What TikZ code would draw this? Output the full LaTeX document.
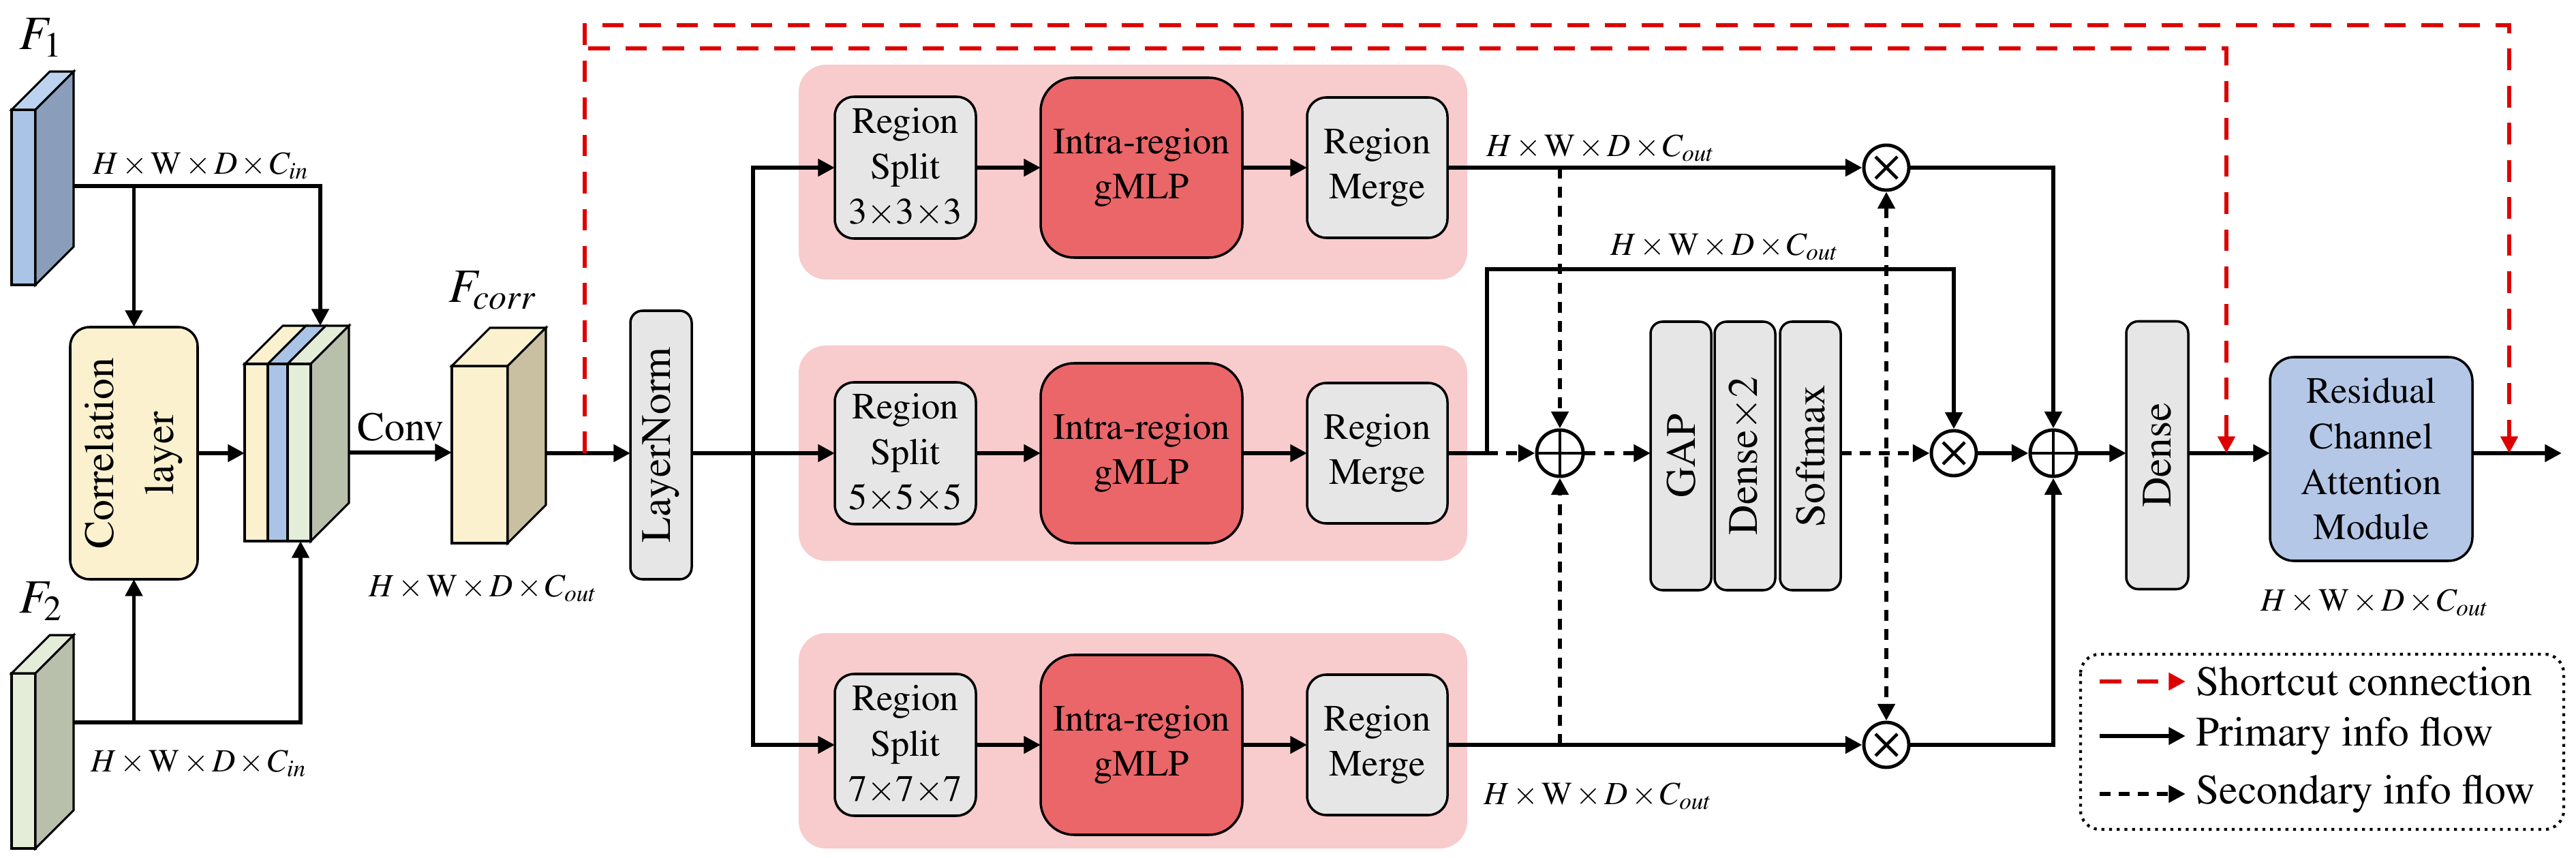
\RequirePackage{fix-cm}
\documentclass[tikz,border=0pt]{standalone}
\usepackage[T1]{fontenc}
\usepackage{mathptmx}
\usepackage{amsmath}
\usepackage{graphicx}
\usetikzlibrary{arrows.meta,calc,positioning}

\definecolor{blueface}{HTML}{A9C4E6}
\definecolor{blueside}{HTML}{8A9EBB}
\definecolor{bluetop}{HTML}{BCD2EE}
\definecolor{greenface}{HTML}{E3EDD8}
\definecolor{greenside}{HTML}{B8C0AC}
\definecolor{creamface}{HTML}{FBF1CF}
\definecolor{creamside}{HTML}{C9BFA1}
\definecolor{boxgrey}{HTML}{E6E6E6}
\definecolor{mlpred}{HTML}{EA6669}
\definecolor{regionpink}{HTML}{F8CBCC}
\definecolor{rcamblue}{HTML}{B4C7E7}
\definecolor{shortred}{HTML}{DD0000}

\newcommand{\hwdc}[1]{$H{\,\times\,}\mathrm{W}{\,\times\,}D{\,\times\,}C_{#1}$}

\tikzset{
  wire/.style={line width=1.7pt},
  flow/.style={line width=1.7pt, -{Triangle[length=7pt,width=7pt]}},
  secflow/.style={flow, dash pattern=on 4.5pt off 3.5pt},
  shortcut/.style={draw=shortred, line width=1.9pt, dash pattern=on 9pt off 6.5pt,
    -{Triangle[length=7pt,width=7pt]}},
  edge/.style={line width=0.9pt},
  slabface/.style={draw, line width=0.9pt, inner sep=0pt, outer sep=0pt},
  greybox/.style={draw, line width=1pt, fill=boxgrey, rounded corners=8pt, align=center,
    inner sep=0pt, outer sep=0pt, font=\fontsize{15.5}{19}\selectfont},
  rotbox/.style={greybox, rounded corners=5pt, font=\fontsize{17.5}{21}\selectfont},
  mlpbox/.style={greybox, fill=mlpred, rounded corners=14pt},
  dimlab/.style={font=\fontsize{13.5}{15}\selectfont, inner sep=0pt},
  featlab/.style={font=\fontsize{20}{22}\selectfont, inner sep=0pt},
  addnode/.style={circle, draw, line width=1.4pt, fill=white, minimum size=0.68cm, inner sep=0pt,
    path picture={\draw[line width=1.3pt] (path picture bounding box.north) -- (path picture bounding box.south)
      (path picture bounding box.west) -- (path picture bounding box.east);}},
  mulnode/.style={circle, draw, line width=1.4pt, fill=white, minimum size=0.66cm, inner sep=0pt,
    path picture={\draw[line width=1.3pt]
      ([shift={(-0.16,-0.16)}]path picture bounding box.center) -- ([shift={(0.16,0.16)}]path picture bounding box.center)
      ([shift={(-0.16,0.16)}]path picture bounding box.center) -- ([shift={(0.16,-0.16)}]path picture bounding box.center);}},
  legtxt/.style={anchor=west, inner sep=0.15cm, font=\fontsize{17.5}{20}\selectfont}
}

% feature block: name, position, width, height, front, side, top
\newcommand{\slab}[7]{%
  \node[slabface, minimum width=#3, minimum height=#4, fill=#5] (#1) at #2 {};
  \filldraw[fill=#7, edge] (#1.north west) -- ++(0.56,0.56) -- ($(#1.north east)+(0.56,0.56)$) -- (#1.north east) -- cycle;
  \filldraw[fill=#6, edge] (#1.north east) -- ++(0.56,0.56) -- ($(#1.south east)+(0.56,0.56)$) -- (#1.south east) -- cycle;
}

\begin{document}
\begin{tikzpicture}
  \useasboundingbox (0,0) rectangle (37.8,-12.59);

  % region groups
  \fill[regionpink, rounded corners=0.4cm] (11.72,-0.95) rectangle (21.53,-4.10);
  \fill[regionpink, rounded corners=0.4cm] (11.72,-5.07) rectangle (21.53,-8.23);
  \fill[regionpink, rounded corners=0.4cm] (11.72,-9.29) rectangle (21.53,-12.45);

  % inputs
  \slab{f1}{(0.345,-2.895)}{0.35cm}{2.57cm}{blueface}{blueside}{bluetop}
  \slab{f2}{(0.345,-11.165)}{0.35cm}{2.57cm}{greenface}{greenside}{greenface}
  \node[featlab] (f1lab) at (0.60,-0.55) {$F_1$};
  \node[featlab] (f2lab) at (0.60,-8.82) {$F_2$};

  \node[greybox, fill=creamface, rounded corners=8pt, minimum width=1.87cm, minimum height=3.70cm,
    font=\fontsize{17.5}{25}\selectfont] (corr) at (1.965,-6.65)
    {\rotatebox{90}{\parbox{3.5cm}{\centering Correlation\\layer}}};

  % concatenated block
  \foreach \a/\b/\c in {3.59/3.93/creamface, 3.93/4.22/blueface, 4.22/4.56/greenface} {
    \filldraw[fill=\c, edge] (\a,-7.94) rectangle (\b,-5.34);
    \filldraw[fill=\c, edge] (\a,-5.34) -- (\b,-5.34) -- (\b+0.56,-4.78) -- (\a+0.56,-4.78) -- cycle;
  }
  \filldraw[fill=greenside, edge] (4.56,-5.34) -- ++(0.56,0.56) -- ++(0,-2.6) -- (4.56,-7.94) -- cycle;
  \node[slabface, minimum width=0.97cm, minimum height=2.6cm] (cat) at (4.075,-6.64) {};

  \slab{fc}{(7.04,-6.67)}{0.82cm}{2.6cm}{creamface}{creamside}{creamface}
  \node[featlab] (fclab) at (7.23,-4.26) {$F_{corr}$};

  \node[dimlab] (inlab1) at (2.95,-2.43) {\hwdc{in}};
  \node[dimlab] (inlab2) at (2.92,-11.20) {\hwdc{in}};
  \node[dimlab] (fcdim) at (7.09,-8.63) {\hwdc{out}};
  \node[font=\fontsize{17}{20}\selectfont, inner sep=0pt] (convlab) at (5.88,-6.27) {Conv};

  \coordinate (f1out) at ($(f1.east)+(0.56,0.165)$);
  \coordinate (f2out) at ($(f2.east)+(0.56,0.565)$);
  \coordinate (catout) at ($(cat.east)+(0.56,0)$);
  \coordinate (fcout) at ($(fc.east)+(0.56,0.02)$);

  \draw[flow] (f1out) -| ([xshift=0.625cm, yshift=0.56cm]cat.north);
  \draw[flow] (corr.north |- f1out) -- (corr.north);
  \draw[flow] (f2out) -| ([xshift=0.335cm]cat.south);
  \draw[flow] (corr.south |- f2out) -- (corr.south);
  \draw[flow] (corr.east) -- (corr.east -| cat.west);
  \draw[flow] (catout) -- (catout -| fc.west);

  % layer norm and region branches
  \node[rotbox, minimum width=0.90cm, minimum height=3.94cm] (ln) at (9.70,-6.53) {\rotatebox{90}{LayerNorm}};
  \draw[flow] (fcout) -- (fcout -| ln.west);

  \foreach \n/\y/\k in {1/-2.46/3, 2/-6.65/5, 3/-10.93/7} {
    \node[greybox, minimum width=2.07cm, minimum height=2.08cm] (split\n) at (13.285,\y) {Region\\Split\\\k$\times$\k$\times$\k};
    \node[mlpbox, minimum width=2.96cm, minimum height=2.64cm] (mlp\n) at (16.75,\y) {Intra-region\\gMLP};
    \node[greybox, minimum width=2.06cm, minimum height=2.06cm] (merge\n) at (20.21,\y) {Region\\Merge};
    \draw[flow] (split\n) -- (mlp\n);
    \draw[flow] (mlp\n) -- (merge\n);
  }

  \coordinate (lnfork) at (11.05,-6.65);
  \draw[wire] (ln.east |- lnfork) -- (lnfork);
  \draw[flow] (lnfork) -- (split2.west);
  \draw[flow] (lnfork) |- (split1.west);
  \draw[flow] (lnfork) |- (split3.west);

  % scale fusion
  \node[addnode] (adda) at (22.89,-6.65) {};
  \node[rotbox, minimum width=0.89cm, minimum height=3.94cm] (gap) at (24.665,-6.69) {\rotatebox{90}{GAP}};
  \node[rotbox, minimum width=0.89cm, minimum height=3.94cm] (dense2) at (25.605,-6.69) {\rotatebox{90}{Dense$\times$2}};
  \node[rotbox, minimum width=0.89cm, minimum height=3.94cm] (soft) at (26.565,-6.69) {\rotatebox{90}{Softmax}};
  \node[mulnode] (mul1) at (27.68,-2.46) {};
  \node[mulnode] (mul2) at (28.67,-6.65) {};
  \node[mulnode] (mul3) at (27.68,-10.93) {};
  \node[addnode] (addb) at (30.13,-6.65) {};

  \node[dimlab] (dim1) at (23.49,-2.17) {\hwdc{out}};
  \node[dimlab] (dim2) at (25.31,-3.62) {\hwdc{out}};
  \node[dimlab] (dim3) at (23.45,-11.68) {\hwdc{out}};

  \draw[flow] (merge1.east) -- (mul1.west);
  \draw[flow] (merge3.east) -- (mul3.west);
  \coordinate (m2fork) at (21.82,-6.65);
  \draw[wire] (merge2.east) -- (m2fork);
  \draw[secflow] (m2fork) -- (adda.west);
  \draw[flow] (m2fork) -- (21.82,-3.95) -| (mul2.north);
  \draw[secflow] (adda |- merge1.east) -- (adda.north);
  \draw[secflow] (adda |- merge3.east) -- (adda.south);
  \draw[secflow] (adda.east) -- (adda.east -| gap.west);
  \draw[secflow] (mul2.west -| soft.east) -- (mul2.west);
  \draw[secflow, {Triangle[length=7pt,width=7pt]}-{Triangle[length=7pt,width=7pt]}] (mul1.south) -- (mul3.north);
  \draw[flow] (mul1.east) -| (addb.north);
  \draw[flow] (mul3.east) -| (addb.south);
  \draw[flow] (mul2.east) -- (addb.west);

  % output
  \node[rotbox, minimum width=0.91cm, minimum height=3.93cm] (dense) at (31.655,-6.68) {\rotatebox{90}{Dense}};
  \node[greybox, fill=rcamblue, rounded corners=10pt, minimum width=2.97cm, minimum height=2.99cm] (rcam) at (34.795,-6.735)
    {Residual\\Channel\\Attention\\Module};
  \node[dimlab] (rcamdim) at (34.85,-8.84) {\hwdc{out}};
  \coordinate (outend) at (37.59,-6.65);
  \draw[flow] (addb.east) -- (addb.east -| dense.west);
  \draw[flow] (dense.east |- addb) -- (rcam.west |- addb);
  \draw[flow] (rcam.east |- outend) -- (outend);

  % shortcuts
  \coordinate (scfork) at (8.58,-6.65);
  \coordinate (sc1end) at (32.67,-6.65);
  \coordinate (sc2end) at (36.82,-6.65);
  \draw[shortcut] (scfork) -- (8.58,-0.71) -| (sc1end);
  \draw[shortcut] (scfork) -- (8.58,-0.37) -| (sc2end);

  % legend
  \draw[line width=1.2pt, dotted, rounded corners=8pt] (30.53,-9.60) rectangle (37.62,-12.17);
  \node[legtxt] (leg1) at (32.07,-10.00) {Shortcut connection};
  \node[legtxt] (leg2) at (32.07,-10.80) {Primary info flow};
  \node[legtxt] (leg3) at (32.07,-11.65) {Secondary info flow};
  \coordinate (leg1s) at (30.81,-10.00);
  \coordinate (leg2s) at (30.81,-10.80);
  \coordinate (leg3s) at (30.81,-11.65);
  \draw[shortcut] (leg1s) -- (leg1.west);
  \draw[flow] (leg2s) -- (leg2.west);
  \draw[secflow] (leg3s) -- (leg3.west);
\end{tikzpicture}
\end{document}
